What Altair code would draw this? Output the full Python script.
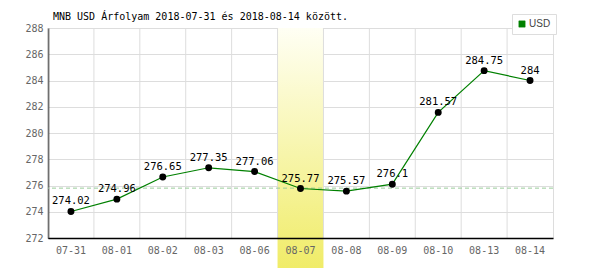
import altair as alt
import pandas as pd

dates = ["07-31", "08-01", "08-02", "08-03", "08-06", "08-07", "08-08", "08-09", "08-10", "08-13", "08-14"]
values = [274.02, 274.96, 276.65, 277.35, 277.06, 275.77, 275.57, 276.1, 281.57, 284.75, 284.0]
labels = ["274.02", "274.96", "276.65", "277.35", "277.06", "275.77", "275.57", "276.1", "281.57", "284.75", "284"]
highlight = ["08-07"]
ref_value = [275.8]
y_ticks = [272, 274, 276, 278, 280, 282, 284, 286, 288]
title_text = ["MNB USD Árfolyam 2018-07-31 és 2018-08-14 között."]

df = pd.DataFrame({"date": dates, "value": values, "label": labels, "series": ["USD"] * len(dates)})
hl = pd.DataFrame({"date": highlight})
ref = pd.DataFrame({"value": ref_value})
tdf = pd.DataFrame({"t": title_text})

MONO = "DejaVu Sans Mono"

xscale = alt.Scale(domain=dates, paddingInner=0, paddingOuter=0)
yscale = alt.Scale(domain=[272, 288], nice=False, zero=False)

xaxis = alt.Axis(labelAngle=0, ticks=False, domainColor="#000000", domainWidth=1.5,
                 labelColor="#666666", labelFont=MONO, labelFontSize=10,
                 labelPadding=7, grid=False, zindex=2, title=None)
yaxis = alt.Axis(values=y_ticks, tickCount=9, ticks=False, domainColor="#000000", domainWidth=1.5,
                 labelColor="#666666", labelFont=MONO, labelFontSize=10,
                 labelPadding=5, grid=True, gridColor="#dddddd", labelOverlap=False,
                 zindex=0, title=None)

X = alt.X("date:N", scale=xscale, axis=xaxis)
Y = alt.Y("value:Q", scale=yscale, axis=yaxis)

base = alt.Chart(df)

band = alt.Chart(hl).mark_rect(
    color={"gradient": "linear", "x1": 0, "y1": 0, "x2": 0, "y2": 1,
           "stops": [{"offset": 0, "color": "#fffff4"}, {"offset": 1, "color": "#f0ec68"}]}
).encode(
    x=X,
    y=alt.value(0), y2=alt.value(240)
)

vgrid = alt.Chart(pd.DataFrame({"date": dates})).mark_rule(color="#dddddd", strokeWidth=1).encode(
    x=alt.X("date:N", scale=xscale, axis=xaxis, bandPosition=0)
)

refline = alt.Chart(ref).mark_rule(color="#99cc99", strokeDash=[4, 3], strokeWidth=1).encode(
    y=Y
)

line = base.mark_line(strokeWidth=1.2).encode(
    x=X, y=Y,
    color=alt.Color("series:N", scale=alt.Scale(range=["#008000"]), title=None,
                    legend=alt.Legend(orient="none", legendX=464, legendY=-14,
                                      symbolType="square", symbolSize=40,
                                      symbolFillColor="#008000", symbolStrokeColor="#004000",
                                      symbolStrokeWidth=0.5,
                                      strokeColor="#dddddd", fillColor="#ffffff", padding=5,
                                      labelFont="Liberation Sans", labelFontSize=10, labelColor="#444444",
                                      labelOffset=2))
)

pts = base.mark_circle(size=48, color="#000000", opacity=1).encode(x=X, y=Y)

txt = base.mark_text(dy=-10, font=MONO, fontSize=10.5, color="#000000").encode(
    x=X, y=Y, text="label:N"
)

title = alt.Chart(tdf).mark_text(align="left", baseline="middle", font=MONO,
                                 fontSize=10, color="#000000").encode(
    x=alt.value(5), y=alt.value(-11), text="t:N"
)

chart = alt.layer(band, vgrid, refline, line, pts, txt, title).properties(
    width=505, height=210,
    autosize=alt.AutoSizeParams(type="none"),
    padding={"left": 48, "top": 28, "right": 47, "bottom": 32}
).configure_view(stroke="#dddddd").configure(background="#ffffff")

chart.save("out.html", embed_options={"renderer": "svg", "actions": False})
